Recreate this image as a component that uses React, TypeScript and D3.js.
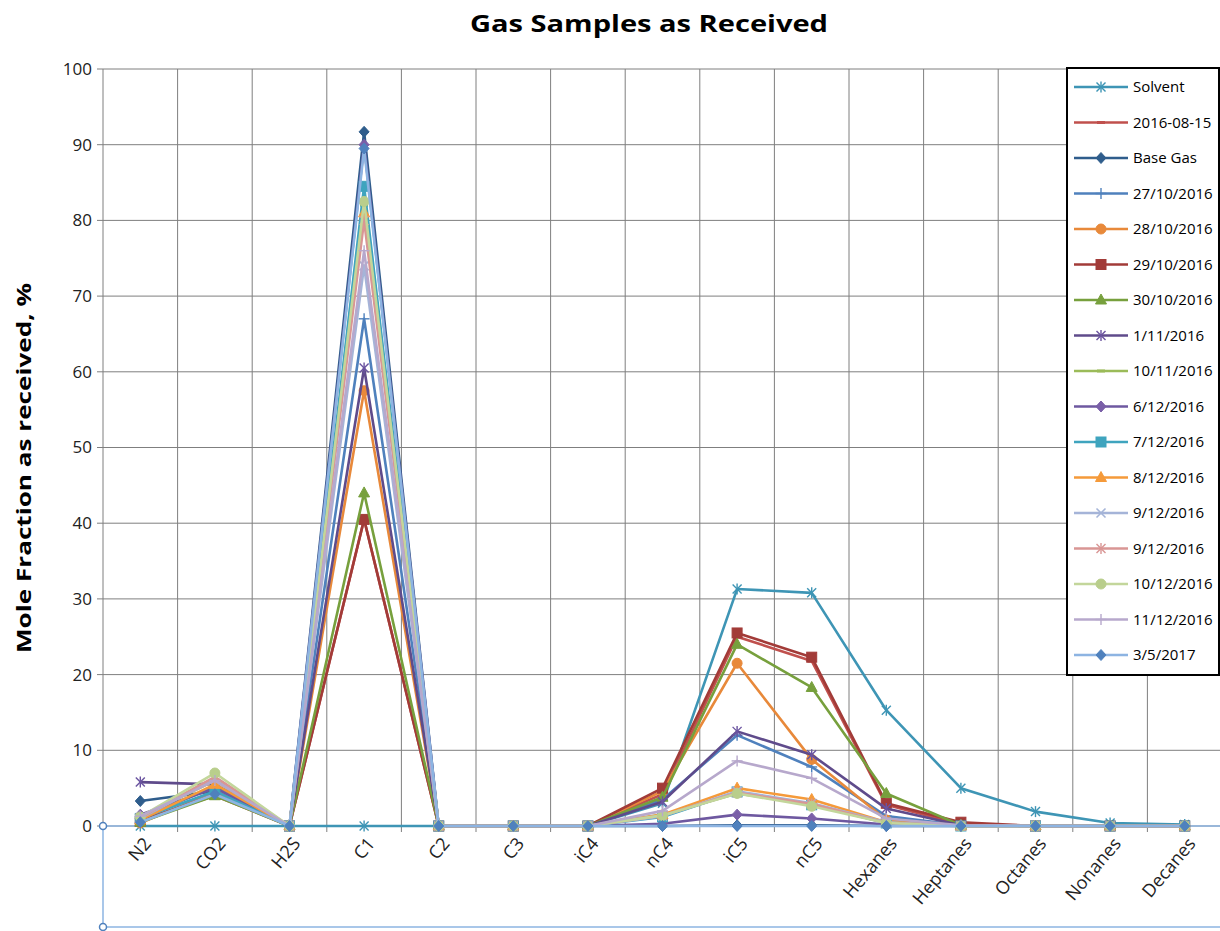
import React from "react";
import * as d3 from "d3";

// Components along the x axis
const categories = [
  "N2", "CO2", "H2S", "C1", "C2", "C3", "iC4", "nC4", "iC5", "nC5",
  "Hexanes", "Heptanes", "Octanes", "Nonanes", "Decanes",
];

// Mole fraction (%) per sample, one value per component
const solvent = [0, 0, 0, 0, 0, 0, 0, 3.0, 31.3, 30.8, 15.3, 5.0, 1.9, 0.4, 0.2];
const s20160815 = [0.8, 4.0, 0, 40.5, 0, 0, 0, 4.2, 25.0, 21.8, 2.8, 0.2, 0, 0, 0];
const baseGas = [3.3, 4.6, 0, 91.7, 0, 0, 0, 0, 0.1, 0.1, 0, 0, 0, 0, 0];
const s271016 = [1.0, 5.2, 0, 67.0, 0, 0, 0, 3.5, 12.0, 7.8, 1.3, 0.1, 0, 0, 0];
const s281016 = [0.4, 4.5, 0, 57.5, 0, 0, 0, 4.6, 21.5, 8.8, 0.8, 0.1, 0, 0, 0];
const s291016 = [0.6, 4.2, 0, 40.5, 0, 0, 0, 5.0, 25.5, 22.3, 3.0, 0.5, 0, 0, 0];
const s301016 = [0.5, 4.0, 0, 44.0, 0, 0, 0, 3.8, 24.0, 18.3, 4.3, 0.1, 0, 0, 0];
const s011116 = [5.8, 5.5, 0, 60.5, 0, 0, 0, 3.2, 12.5, 9.4, 2.3, 0.1, 0, 0, 0];
const s101116 = [1.2, 6.0, 0, 82.0, 0, 0, 0, 1.5, 4.3, 2.8, 0.5, 0, 0, 0, 0];
const s061216 = [1.5, 5.0, 0, 90.0, 0, 0, 0, 0.3, 1.5, 1.0, 0.2, 0, 0, 0, 0];
const s071216 = [1.0, 4.6, 0, 84.5, 0, 0, 0, 1.2, 4.5, 2.8, 0.4, 0, 0, 0, 0];
const s081216 = [0.8, 5.5, 0, 81.0, 0, 0, 0, 1.5, 5.0, 3.5, 0.5, 0, 0, 0, 0];
const s091216a = [1.0, 6.2, 0, 74.0, 0, 0, 0, 1.3, 4.6, 3.0, 0.5, 0, 0, 0, 0];
const s091216b = [1.1, 6.5, 0, 80.0, 0, 0, 0, 1.4, 4.4, 2.9, 0.4, 0, 0, 0, 0];
const s101216 = [1.2, 7.0, 0, 82.5, 0, 0, 0, 1.4, 4.3, 2.6, 0.4, 0, 0, 0, 0];
const s111216 = [1.3, 6.0, 0, 76.0, 0, 0, 0, 2.0, 8.6, 6.3, 1.0, 0.1, 0, 0, 0];
const s030517 = [0.5, 4.2, 0, 89.5, 0, 0, 0, 0, 0, 0, 0, 0, 0, 0, 0];

const yTicks = [0, 10, 20, 30, 40, 50, 60, 70, 80, 90, 100];

type Marker = "star" | "dash" | "diamond" | "plus" | "circle" | "square" | "triangle" | "x";

const series: { name: string; values: number[]; color: string; markColor: string; marker: Marker }[] = [
  { name: "Solvent", values: solvent, color: "#3E95B5", markColor: "#3E95B5", marker: "star" },
  { name: "2016-08-15", values: s20160815, color: "#C0504D", markColor: "#C0504D", marker: "dash" },
  { name: "Base Gas", values: baseGas, color: "#2F5D8C", markColor: "#2F5D8C", marker: "diamond" },
  { name: "27/10/2016", values: s271016, color: "#4F81BD", markColor: "#4F81BD", marker: "plus" },
  { name: "28/10/2016", values: s281016, color: "#E8893A", markColor: "#E8893A", marker: "circle" },
  { name: "29/10/2016", values: s291016, color: "#A23B38", markColor: "#A23B38", marker: "square" },
  { name: "30/10/2016", values: s301016, color: "#77A03D", markColor: "#77A03D", marker: "triangle" },
  { name: "1/11/2016", values: s011116, color: "#5F4B8B", markColor: "#6B54A0", marker: "star" },
  { name: "10/11/2016", values: s101116, color: "#9BBB59", markColor: "#9BBB59", marker: "dash" },
  { name: "6/12/2016", values: s061216, color: "#6E58A0", markColor: "#7A5FA8", marker: "diamond" },
  { name: "7/12/2016", values: s071216, color: "#3FA4BE", markColor: "#3FA4BE", marker: "square" },
  { name: "8/12/2016", values: s081216, color: "#F59A3A", markColor: "#F59A3A", marker: "triangle" },
  { name: "9/12/2016", values: s091216a, color: "#A5B4D8", markColor: "#A5B4D8", marker: "x" },
  { name: "9/12/2016", values: s091216b, color: "#D99694", markColor: "#D99694", marker: "star" },
  { name: "10/12/2016", values: s101216, color: "#C3D69B", markColor: "#B9CE8C", marker: "circle" },
  { name: "11/12/2016", values: s111216, color: "#B7A8CC", markColor: "#B7A8CC", marker: "plus" },
  { name: "3/5/2017", values: s030517, color: "#8DB4E2", markColor: "#4F81BD", marker: "diamond" },
];

const W = 1220;
const H = 931;
const plot = { left: 103, right: 1222, top: 69, bottom: 826 };

function MarkerShape({ kind, x, y, color }: { kind: Marker; x: number; y: number; color: string }) {
  const r = 4.5;
  switch (kind) {
    case "star":
      return (
        <g stroke={color} strokeWidth={1.4}>
          <line x1={x - r} y1={y - r} x2={x + r} y2={y + r} />
          <line x1={x - r} y1={y + r} x2={x + r} y2={y - r} />
          <line x1={x} y1={y - r - 1} x2={x} y2={y + r + 1} />
        </g>
      );
    case "x":
      return (
        <g stroke={color} strokeWidth={1.6}>
          <line x1={x - r} y1={y - r} x2={x + r} y2={y + r} />
          <line x1={x - r} y1={y + r} x2={x + r} y2={y - r} />
        </g>
      );
    case "dash":
      return <line x1={x - 4} y1={y} x2={x + 4} y2={y} stroke={color} strokeWidth={3} />;
    case "plus":
      return (
        <g stroke={color} strokeWidth={1.4}>
          <line x1={x - r - 1} y1={y} x2={x + r + 1} y2={y} />
          <line x1={x} y1={y - r - 1} x2={x} y2={y + r + 1} />
        </g>
      );
    case "diamond":
      return (
        <path
          d={`M${x},${y - 5.5}L${x + 5},${y}L${x},${y + 5.5}L${x - 5},${y}Z`}
          fill={color}
          stroke={color}
          strokeWidth={1}
        />
      );
    case "circle":
      return <circle cx={x} cy={y} r={5} fill={color} stroke={color} />;
    case "square":
      return <rect x={x - 5} y={y - 5} width={10} height={10} fill={color} stroke={color} />;
    case "triangle":
      return (
        <path
          d={`M${x},${y - 6}L${x + 5.5},${y + 4}L${x - 5.5},${y + 4}Z`}
          fill={color}
          stroke={color}
        />
      );
  }
}

export default function App() {
  const x = d3
    .scaleBand<string>()
    .domain(categories)
    .range([plot.left, plot.right])
    .paddingInner(0)
    .paddingOuter(0);
  const y = d3.scaleLinear().domain([0, 100]).range([plot.bottom, plot.top]);
  const cx = (c: string) => (x(c) ?? 0) + x.bandwidth() / 2;

  const line = d3
    .line<number>()
    .x((_, i) => cx(categories[i]))
    .y((v) => y(v));

  const bounds = categories.map((c) => x(c) ?? 0).concat([plot.right]);

  const legend = { x: 1067, y: 68, w: 152, h: 607, first: 87, step: 35.5 };
  const font = "'Open Sans', Lato, sans-serif";

  return (
    <svg
      width={W}
      height={H}
      viewBox={`0 0 ${W} ${H}`}
      style={{ position: "absolute", left: 0, top: 0, background: "#fff" }}
      fontFamily={font}
    >
      <rect width={W} height={H} fill="#fff" />

      {/* title */}
      <text
        x={649}
        y={32}
        textAnchor="middle"
        fontSize={24}
        fontWeight="bold"
        fill="#000"
        textLength={358}
        lengthAdjust="spacingAndGlyphs"
      >
        Gas Samples as Received
      </text>

      {/* gridlines */}
      <g stroke="#7f7f7f" strokeWidth={1}>
        {yTicks.map((t) => (
          <line key={"h" + t} x1={plot.left} x2={plot.right} y1={y(t)} y2={y(t)} />
        ))}
        {bounds.slice(1).map((b, i) => (
          <line key={"v" + i} x1={b} x2={b} y1={plot.top} y2={plot.bottom + 6} />
        ))}
      </g>

      {/* y axis */}
      <line x1={plot.left} x2={plot.left} y1={plot.top} y2={plot.bottom} stroke="#7f7f7f" />
      <g stroke="#7f7f7f">
        {yTicks.map((t) => (
          <line key={"t" + t} x1={plot.left - 6} x2={plot.left} y1={y(t)} y2={y(t)} />
        ))}
      </g>
      <g fontSize={17} fill="#222" textAnchor="end">
        {yTicks.map((t) => (
          <text key={"l" + t} x={92} y={y(t)} dy="0.35em">
            {t}
          </text>
        ))}
      </g>
      <text
        transform={`translate(31,468) rotate(-90)`}
        textAnchor="middle"
        fontSize={19}
        fontWeight="bold"
        fill="#000"
        textLength={370}
        lengthAdjust="spacingAndGlyphs"
      >
        Mole Fraction as received, %
      </text>

      {/* frame below the category axis */}
      <g stroke="#8DB4E2" strokeWidth={1.5} fill="#fff">
        <line x1={plot.left} x2={plot.left} y1={plot.bottom} y2={927} />
        <line x1={plot.left} x2={W} y1={927} y2={927} />
        <line x1={plot.left} x2={plot.right} y1={plot.bottom} y2={plot.bottom} />
        <circle cx={plot.left} cy={plot.bottom} r={3.5} stroke="#4F81BD" />
        <circle cx={plot.left} cy={927} r={3.5} stroke="#4F81BD" />
      </g>

      {/* category labels */}
      <g fontSize={18} fill="#222">
        {categories.map((c) => (
          <text
            key={c}
            transform={`translate(${cx(c) + 7},${plot.bottom + 14}) rotate(-50)`}
            textAnchor="end"
            dy="0.35em"
          >
            {c}
          </text>
        ))}
      </g>

      {/* series */}
      {series.map((s, i) => (
        <g key={"s" + i}>
          <path d={line(s.values) ?? ""} fill="none" stroke={s.color} strokeWidth={2.6} strokeLinejoin="round" />
          {s.values.map((v, j) => (
            <MarkerShape key={j} kind={s.marker} x={cx(categories[j])} y={y(v)} color={s.markColor} />
          ))}
        </g>
      ))}

      {/* legend */}
      <rect
        x={legend.x}
        y={legend.y}
        width={legend.w}
        height={legend.h}
        fill="#fff"
        stroke="#000"
        strokeWidth={2}
      />
      {series.map((s, i) => {
        const ly = legend.first + legend.step * i;
        return (
          <g key={"lg" + i}>
            <line x1={1074} x2={1128} y1={ly} y2={ly} stroke={s.color} strokeWidth={2.5} />
            <MarkerShape kind={s.marker} x={1101} y={ly} color={s.markColor} />
            <text x={1133} y={ly} dy="0.35em" fontSize={15} fill="#000">
              {s.name}
            </text>
          </g>
        );
      })}
    </svg>
  );
}
